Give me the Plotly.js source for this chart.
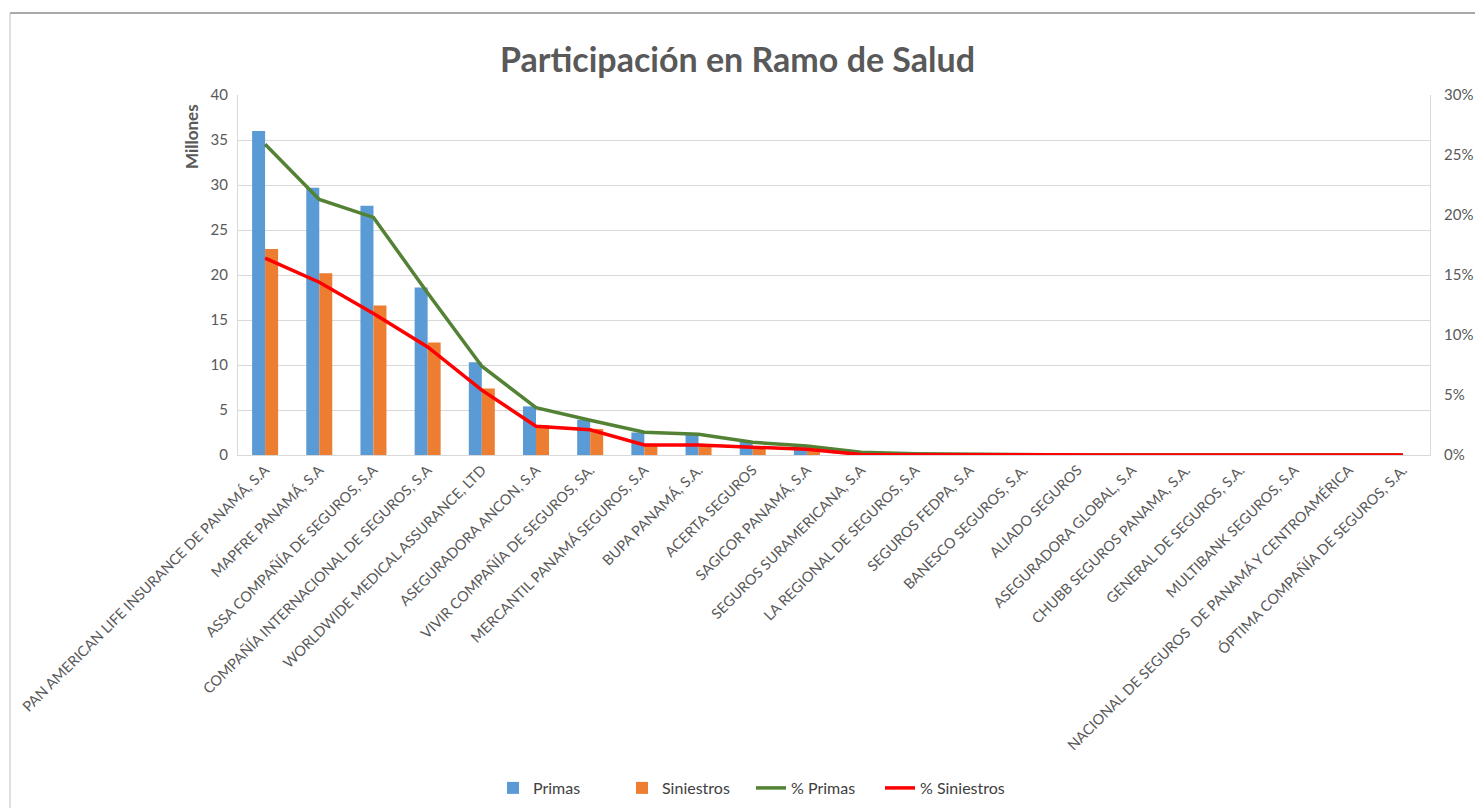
<!DOCTYPE html>
<html>
<head>
<meta charset="utf-8">
<script src="https://cdn.plot.ly/plotly-3.0.1.min.js"></script>
<style>
  html, body { margin: 0; padding: 0; background: #fff; }
  #chart { width: 1475px; height: 808px; }
</style>
</head>
<body>
<div id="chart"></div>
<script>
const categories = [
  "PAN AMERICAN LIFE INSURANCE DE PANAMÁ, S.A",
  "MAPFRE PANAMÁ, S.A",
  "ASSA COMPAÑÍA DE SEGUROS, S.A",
  "COMPAÑÍA INTERNACIONAL DE SEGUROS, S.A",
  "WORLDWIDE MEDICAL ASSURANCE, LTD",
  "ASEGURADORA ANCON, S.A",
  "VIVIR COMPAÑÍA DE SEGUROS, SA.",
  "MERCANTIL PANAMÁ SEGUROS, S.A",
  "BUPA PANAMÁ, S.A.",
  "ACERTA SEGUROS",
  "SAGICOR PANAMÁ, S.A",
  "SEGUROS SURAMERICANA, S.A",
  "LA REGIONAL DE SEGUROS, S.A",
  "SEGUROS FEDPA, S.A",
  "BANESCO SEGUROS, S.A.",
  "ALIADO SEGUROS",
  "ASEGURADORA GLOBAL, S.A",
  "CHUBB SEGUROS PANAMA, S.A.",
  "GENERAL DE SEGUROS, S.A.",
  "MULTIBANK SEGUROS, S.A",
  "NACIONAL DE SEGUROS  DE PANAMÁ Y CENTROAMÉRICA",
  "ÓPTIMA COMPAÑÍA DE SEGUROS, S.A."
];
// Millones
const primas = [36.0, 29.7, 27.7, 18.6, 10.3, 5.4, 3.9, 2.5, 2.3, 1.45, 1.0, 0.3, 0.15, 0.07, 0.02, 0.01, 0.01, 0.005, 0.005, 0.003, 0.002, 0.001];
const siniestros = [22.9, 20.2, 16.6, 12.5, 7.4, 3.3, 2.9, 1.0, 1.1, 0.75, 0.45, 0.05, 0.03, 0.02, 0.01, 0.005, 0.003, 0.002, 0.002, 0.001, 0.001, 0.0];
// percentages (%)
const pctPrimas = [25.9, 21.3, 19.8, 13.5, 7.4, 3.94, 2.9, 1.89, 1.72, 1.06, 0.75, 0.22, 0.1, 0.05, 0.02, 0.01, 0.01, 0.005, 0.005, 0.003, 0.002, 0.001];
const pctSiniestros = [16.4, 14.4, 11.8, 9.0, 5.4, 2.4, 2.1, 0.83, 0.83, 0.67, 0.47, 0.04, 0.02, 0.01, 0.005, 0.003, 0.002, 0.001, 0.001, 0.001, 0.0, 0.0];

const FONT = "Lato, 'Open Sans', sans-serif";
const TXT = "#595959";

const traces = [
  { type: "bar", name: "Primas", x: categories, y: primas, marker: { color: "#5b9bd5" } },
  { type: "bar", name: "Siniestros", x: categories, y: siniestros, marker: { color: "#ed7d31" } },
  { type: "scatter", mode: "lines", name: "% Primas", x: categories, y: pctPrimas, yaxis: "y2",
    line: { color: "#548235", width: 3.5 } },
  { type: "scatter", mode: "lines", name: "% Siniestros", x: categories, y: pctSiniestros, yaxis: "y2",
    line: { color: "#ff0000", width: 3.5 } }
];

const L = 238, R = 1430, T = 95, B = 455;
const W = R - L, H = B - T;
const px = v => (v - L) / W;
const py = v => (B - v) / H;

const layout = {
  width: 1475, height: 808,
  margin: { l: L, r: 1475 - R, t: T, b: 808 - B, autoexpand: false },
  paper_bgcolor: "#ffffff", plot_bgcolor: "#ffffff",
  font: { family: FONT, color: TXT, size: 14 },
  title: { text: "<b>Participación en Ramo de Salud</b>", x: 0.5, xref: "container", xanchor: "center",
           y: 1 - 60 / 808, yanchor: "middle", yref: "container",
           font: { family: FONT, size: 34, color: TXT } },
  barmode: "group", bargap: 0.52, bargroupgap: 0,
  showlegend: true,
  legend: { orientation: "h", x: 751 / 1475, xanchor: "center", xref: "container",
            y: 1 - 788 / 808, yanchor: "middle", yref: "container",
            font: { family: FONT, size: 16, color: "#404040" },
            entrywidth: 84, entrywidthmode: "pixels",
            traceorder: "normal" },
  xaxis: {
    type: "category", tickangle: -45, tickfont: { family: FONT, size: 14.5, color: TXT },
    showline: true, linecolor: "#d9d9d9", linewidth: 1, ticks: "", showgrid: false,
    automargin: false
  },
  yaxis: {
    range: [0, 40], dtick: 5, tickfont: { family: FONT, size: 15, color: TXT },
    showgrid: true, gridcolor: "#d9d9d9", gridwidth: 1, zeroline: false,
    showline: true, linecolor: "#d9d9d9", ticks: "", automargin: false, ticklabelstandoff: 6
  },
  yaxis2: {
    overlaying: "y", side: "right", range: [0, 30], dtick: 5, ticksuffix: "%",
    tickfont: { family: FONT, size: 15, color: TXT }, showgrid: false, zeroline: false,
    showline: true, linecolor: "#d9d9d9", ticks: "", automargin: false, ticklabelstandoff: 10
  },
  annotations: [
    { text: "<b>Millones</b>", textangle: -90, xref: "paper", yref: "paper",
      x: px(191), y: py(137), xanchor: "center", yanchor: "middle", showarrow: false,
      font: { family: FONT, size: 17, color: TXT } }
  ],
  shapes: [
    { type: "line", xref: "paper", yref: "paper", x0: px(10), x1: px(1475), y0: py(13), y1: py(13),
      line: { color: "#8c8c8c", width: 1.5 } },
    { type: "line", xref: "paper", yref: "paper", x0: px(10), x1: px(10), y0: py(13), y1: py(808),
      line: { color: "#bfbfbf", width: 1 } }
  ]
};

Plotly.newPlot("chart", traces, layout, { displayModeBar: false, staticPlot: true });
</script>
</body>
</html>
